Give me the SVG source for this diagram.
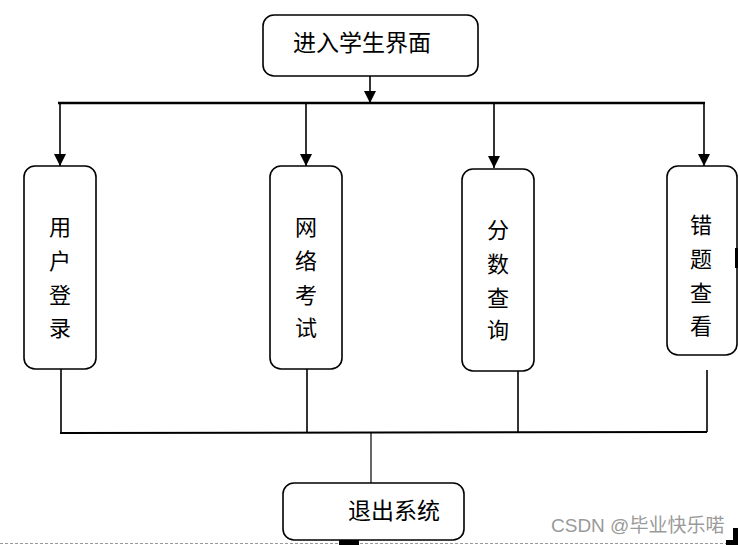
<svg xmlns="http://www.w3.org/2000/svg" width="738" height="545" viewBox="0 0 738 545">
<defs>
<style>
.box{fill:#fff;stroke:#000;stroke-width:1.6}
.t{font-family:"Liberation Sans","Noto Sans CJK SC",sans-serif;font-size:23px;fill:#000}
.tv{font-family:"Liberation Sans","Noto Sans CJK SC",sans-serif;font-size:22px;fill:#000;text-anchor:middle}
.ln{stroke:#000;stroke-width:1.6;fill:none}
</style>
<marker id="ahb" viewBox="0 0 12 12" refX="12" refY="6" markerWidth="13" markerHeight="12" markerUnits="userSpaceOnUse" orient="auto">
<path d="M0,0 L12,6 L0,12 Z" fill="#000"/>
</marker>
</defs>
<rect width="738" height="545" fill="#fff"/>
<g id="connectors">
<line class="ln" x1="370" y1="76" x2="370" y2="103" marker-end="url(#ahb)"/>
<line x1="58" y1="103" x2="705" y2="103" stroke="#000" stroke-width="2.6"/>
<line class="ln" x1="60" y1="104" x2="60" y2="166" marker-end="url(#ahb)"/>
<line class="ln" x1="306" y1="104" x2="306" y2="166" marker-end="url(#ahb)"/>
<line class="ln" x1="494" y1="104" x2="494" y2="168" marker-end="url(#ahb)"/>
<line class="ln" x1="704" y1="104" x2="704" y2="166" marker-end="url(#ahb)"/>
<line class="ln" x1="61" y1="369" x2="61" y2="433"/>
<line class="ln" x1="307" y1="369" x2="307" y2="433"/>
<line class="ln" x1="518" y1="371" x2="518" y2="433"/>
<line class="ln" x1="707" y1="370" x2="707" y2="432"/>
<line x1="60" y1="433" x2="707" y2="432" stroke="#000" stroke-width="2"/>
<line x1="371" y1="432" x2="371" y2="483" stroke="#000" stroke-width="1.2"/>
</g>
<g id="n0">
<rect class="box" x="263" y="15" width="215" height="61" rx="11"/>
<text class="t" x="293" y="51">进入学生界面</text>
</g>
<g id="n1">
<rect class="box" x="24" y="166" width="72" height="203" rx="11"/>
<text class="tv" x="60" y="235">用</text>
<text class="tv" x="60" y="269">户</text>
<text class="tv" x="60" y="303">登</text>
<text class="tv" x="60" y="336">录</text>
</g>
<g id="n2">
<rect class="box" x="270" y="166" width="72" height="203" rx="11"/>
<text class="tv" x="306" y="235">网</text>
<text class="tv" x="306" y="269">络</text>
<text class="tv" x="306" y="303">考</text>
<text class="tv" x="306" y="336">试</text>
</g>
<g id="n3">
<rect class="box" x="462" y="169" width="72" height="202" rx="11"/>
<text class="tv" x="498" y="238">分</text>
<text class="tv" x="498" y="272">数</text>
<text class="tv" x="498" y="306">查</text>
<text class="tv" x="498" y="338">询</text>
</g>
<g id="n4">
<rect class="box" x="667" y="166" width="70" height="189" rx="11"/>
<text class="tv" x="701" y="233">错</text>
<text class="tv" x="701" y="267">题</text>
<text class="tv" x="701" y="301">查</text>
<text class="tv" x="701" y="334">看</text>
</g>
<g id="n5">
<rect class="box" x="283" y="483" width="181" height="57" rx="11"/>
<text class="t" x="348" y="519">退出系统</text>
</g>
<line x1="0" y1="543.5" x2="738" y2="543.5" stroke="#999" stroke-width="1" stroke-dasharray="3,2"/>
<rect x="339" y="540" width="20" height="5" fill="#000"/>
<rect x="733" y="528" width="5" height="17" fill="#000"/>
<rect x="726" y="540" width="12" height="5" fill="#000"/>
<rect x="735" y="248" width="3" height="20" fill="#000"/>
<text x="551" y="532" font-family="Liberation Sans,Noto Sans CJK SC,sans-serif" font-size="19" fill="#9a9a9a">CSDN @毕业快乐喏</text>
</svg>
